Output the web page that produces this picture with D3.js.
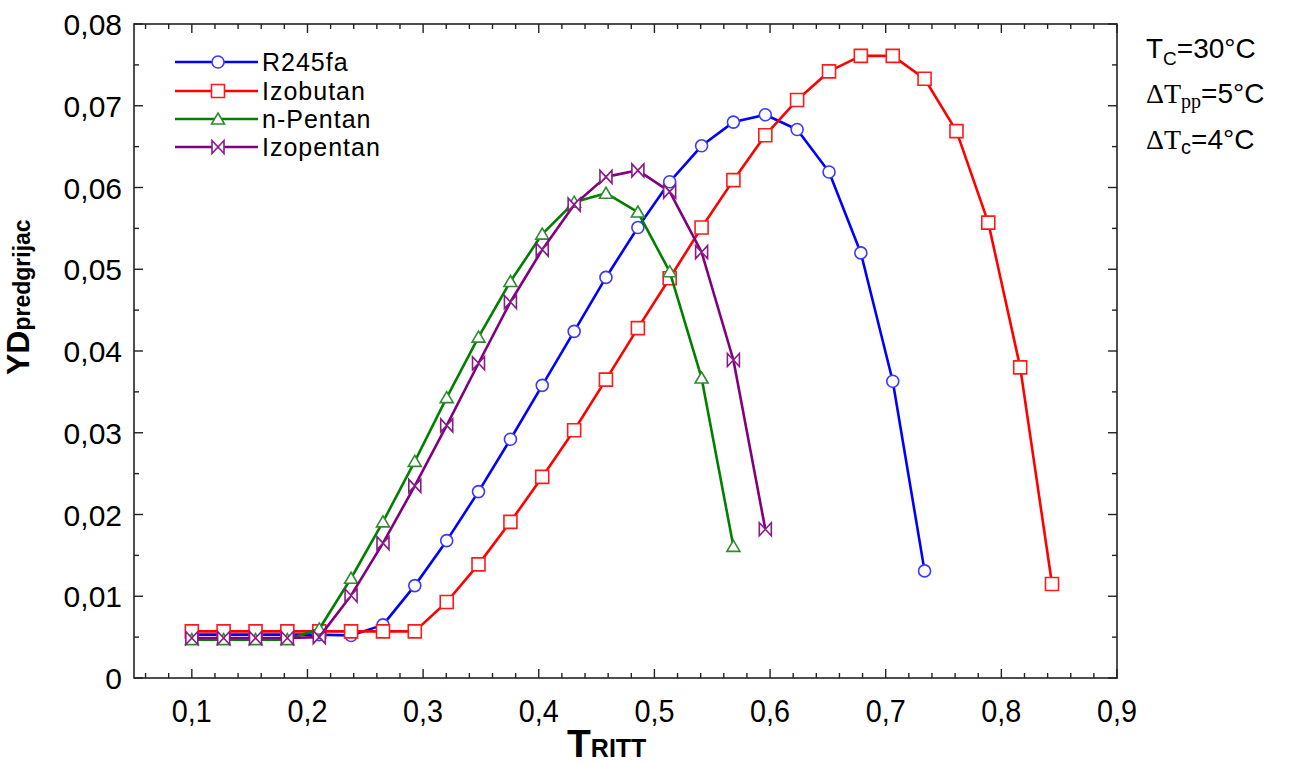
<!DOCTYPE html>
<html><head><meta charset="utf-8">
<script src="https://cdn.jsdelivr.net/npm/d3@7"></script>
<style>body{margin:0;background:#fff}svg{display:block}text{font-family:"Liberation Sans",Arial,sans-serif}</style>
</head><body><svg id="c" width="1294" height="765"></svg>
<script>
const T = [0.1,0.1275,0.1551,0.1826,0.2102,0.2377,0.2653,0.2928,0.3204,0.3479,0.3755,0.403,0.4306,0.4581,0.4857,0.5132,0.5408,0.5683,0.5959,0.6234,0.651,0.6785,0.7061,0.7336,0.7612,0.7887,0.8163,0.8438];
const R245fa = [0.0053,0.0053,0.0053,0.0053,0.0053,0.0052,0.0065,0.0113,0.0168,0.0228,0.0292,0.0358,0.0424,0.0490,0.0551,0.0607,0.0651,0.0680,0.0689,0.0671,0.0619,0.0520,0.0363,0.0131];
const Izobutan = [0.0057,0.0057,0.0057,0.0057,0.0057,0.0057,0.0057,0.0057,0.0093,0.0139,0.0191,0.0246,0.0303,0.0365,0.0428,0.0489,0.0551,0.0609,0.0664,0.0707,0.0742,0.0761,0.0761,0.0733,0.0669,0.0557,0.0380,0.0115];
const nPentan = [0.0047,0.0047,0.0047,0.0047,0.0060,0.0122,0.0191,0.0265,0.0343,0.0417,0.0485,0.0543,0.0582,0.0593,0.0570,0.0497,0.0367,0.0161];
const Izopentan = [0.0049,0.0049,0.0049,0.0049,0.0050,0.0101,0.0165,0.0235,0.0309,0.0385,0.0460,0.0524,0.0579,0.0613,0.0621,0.0595,0.0521,0.0389,0.0182];
const seriesNames = ["R245fa","Izobutan","n-Pentan","Izopentan"];
const xTicks = [0.1,0.2,0.3,0.4,0.5,0.6,0.7,0.8,0.9];
const yTicks = [0,0.01,0.02,0.03,0.04,0.05,0.06,0.07,0.08];

const svg = d3.select("#c");
const L=134, R=1117, TOP=24, B=678;
const x = d3.scaleLinear().domain([0.05,0.9]).range([L,R]);
const y = d3.scaleLinear().domain([0,0.08]).range([B,TOP]);
const fmt = v => v===0 ? "0" : d3.format(".2f")(v).replace(".",",");
const fmtX = v => d3.format(".1f")(v).replace(".",",");

const series = [
  {name:seriesNames[0], vals:R245fa, color:"#0000ff", mstroke:"#3a3aff", marker:"circle"},
  {name:seriesNames[1], vals:Izobutan, color:"#ff0000", mstroke:"#ff1a1a", marker:"square"},
  {name:seriesNames[2], vals:nPentan, color:"#008000", mstroke:"#2e8b2e", marker:"triangle"},
  {name:seriesNames[3], vals:Izopentan, color:"#800080", mstroke:"#8a1a8a", marker:"bowtie"}
];
function markerPath(type){
  switch(type){
    case "circle": return d3.symbol().type(d3.symbolCircle).size(Math.PI*36)();
    case "square": return "M-6.5,-6.5H6.5V6.5H-6.5Z";
    case "triangle": return "M0,-6L6.5,5H-6.5Z";
    case "bowtie": return "M-6,-6.5L6,6.5L6,-6.5L-6,6.5Z";
  }
}

svg.append("rect").attr("x",L).attr("y",TOP).attr("width",R-L).attr("height",B-TOP)
  .attr("fill","none").attr("stroke","#222").attr("stroke-width",1.6);

const xMinor = d3.range(0.06,0.9,0.02).map(v=>+v.toFixed(2)).filter(v=>!xTicks.some(t=>Math.abs(t-v)<1e-6));
const tg = svg.append("g").attr("stroke","#222").attr("stroke-width",1.4);
xTicks.forEach(v=>{ tg.append("line").attr("x1",x(v)).attr("x2",x(v)).attr("y1",B).attr("y2",B-9);
  tg.append("line").attr("x1",x(v)).attr("x2",x(v)).attr("y1",TOP).attr("y2",TOP+9);});
xMinor.forEach(v=>{ tg.append("line").attr("x1",x(v)).attr("x2",x(v)).attr("y1",B).attr("y2",B-5);
  tg.append("line").attr("x1",x(v)).attr("x2",x(v)).attr("y1",TOP).attr("y2",TOP+5);});
const yMinor = d3.range(0.005,0.08,0.01).map(v=>+v.toFixed(3));
yTicks.forEach(v=>{ tg.append("line").attr("x1",L).attr("x2",L+9).attr("y1",y(v)).attr("y2",y(v));
  tg.append("line").attr("x1",R).attr("x2",R-9).attr("y1",y(v)).attr("y2",y(v));});
yMinor.forEach(v=>{ tg.append("line").attr("x1",L).attr("x2",L+5).attr("y1",y(v)).attr("y2",y(v));
  tg.append("line").attr("x1",R).attr("x2",R-5).attr("y1",y(v)).attr("y2",y(v));});

xTicks.forEach(v=>{
  svg.append("text").attr("x",x(v)).attr("y",722).attr("text-anchor","middle")
    .attr("font-size",32).attr("textLength",40).attr("lengthAdjust","spacingAndGlyphs")
    .attr("fill","#000").text(fmtX(v));
});
yTicks.forEach(v=>{
  svg.append("text").attr("x",122).attr("y",y(v)+11).attr("text-anchor","end")
    .attr("font-size",30).attr("fill","#000").text(fmt(v));
});

const xt = svg.append("text").attr("x",567).attr("y",757).attr("font-weight","bold").attr("fill","#000");
xt.append("tspan").attr("font-size",39).text("T");
xt.append("tspan").attr("font-size",25).text("RITT");
const yt = svg.append("text").attr("transform","translate(29,375) rotate(-90)").attr("font-weight","bold").attr("fill","#000");
yt.append("tspan").attr("font-size",32).text("YD");
yt.append("tspan").attr("font-size",23).attr("dy",1).text("predgrijac");

const line = d3.line().x((d,i)=>x(T[i])).y(d=>y(d));
series.forEach(s=>{
  const g = svg.append("g");
  g.append("path").attr("d",line(s.vals)).attr("fill","none").attr("stroke",s.color).attr("stroke-width",2.6).attr("stroke-linejoin","round");
  g.selectAll("path.m").data(s.vals).enter().append("path").attr("class","m")
    .attr("transform",(d,i)=>`translate(${x(T[i])},${y(d)})`)
    .attr("d",markerPath(s.marker)).attr("fill","#fff").attr("stroke",s.mstroke).attr("stroke-width",1.6);
});

const legY = [62,91,119,147];
series.forEach((s,i)=>{
  const g = svg.append("g");
  g.append("line").attr("x1",175).attr("x2",258).attr("y1",legY[i]).attr("y2",legY[i]).attr("stroke",s.color).attr("stroke-width",2.6);
  g.append("path").attr("transform",`translate(218,${legY[i]})`).attr("d",markerPath(s.marker)).attr("fill","#fff").attr("stroke",s.mstroke).attr("stroke-width",1.6);
  g.append("text").attr("x",262).attr("y",legY[i]+9).attr("font-size",25).attr("letter-spacing",1).attr("fill","#000").text(s.name);
});

const serif = "Liberation Serif, Times New Roman, serif";
const a1 = svg.append("text").attr("x",1146).attr("y",58).attr("font-size",28).attr("fill","#000");
a1.append("tspan").text("T");
a1.append("tspan").attr("font-size",19).attr("dy",7).text("C");
a1.append("tspan").attr("dy",-7).text("=30°C");
const a2 = svg.append("text").attr("x",1146).attr("y",103).attr("font-size",28).attr("fill","#000");
a2.append("tspan").attr("font-family",serif).text("ΔT");
a2.append("tspan").attr("font-family",serif).attr("font-size",20).attr("dy",5).text("pp");
a2.append("tspan").attr("dy",-5).text("=5°C");
const a3 = svg.append("text").attr("x",1146).attr("y",149).attr("font-size",28).attr("fill","#000");
a3.append("tspan").attr("font-family",serif).text("ΔT");
a3.append("tspan").attr("font-size",20).attr("dy",5).text("c");
a3.append("tspan").attr("dy",-5).text("=4°C");
</script></body></html>
